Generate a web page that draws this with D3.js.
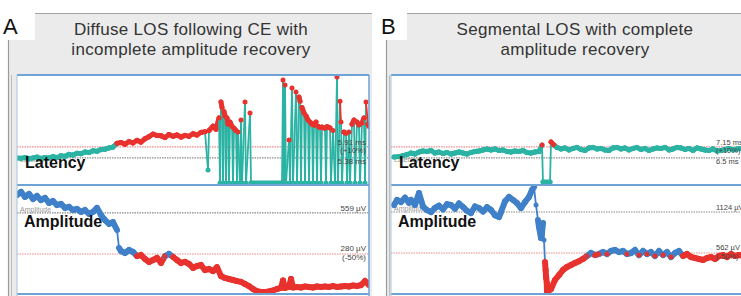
<!DOCTYPE html>
<html>
<head>
<meta charset="utf-8">
<script src="https://cdn.jsdelivr.net/npm/d3@7"></script>
<style>
  body { margin: 0; background: #fff; }
  svg { display: block; font-family: "Liberation Sans", Arial, sans-serif; }
</style>
</head>
<body>
<div id="chart"></div>
<script>
// panel titles
const titlesA = ['Diffuse LOS following CE with', 'incomplete amplitude recovery']
const titlesB = ['Segmental LOS with complete', 'amplitude recovery']

// reference lines: [baseline, alarm threshold]
const latLinesA = [5.38, 5.91]
const ampLinesA = [559, 280]
const latLinesB = [6.5, 7.15]
const ampLinesB = [1124, 562]

const latLabelsA = ['5.91 ms', '(+10%)', '5.38 ms']
const ampLabelsA = ['559 µV', '280 µV', '(-50%)']
const latLabelsB = ['7.15 ms', '(+10%)', '6.5 ms']
const ampLabelsB = ['1124 µV', '562 µV', '(-50%)']

// [minute, ms] ; 4.18 = signal dropout
const latencyA = [
  [0,5.38],[2,5.36],[4,5.40],[6,5.34],[8,5.38],[10,5.42],[12,5.36],[14,5.40],[16,5.38],[18,5.44],
  [20,5.40],[22,5.48],[24,5.46],[26,5.55],[28,5.52],[30,5.60],[32,5.58],[34,5.66],[36,5.64],[38,5.72],
  [40,5.70],[42,5.78],[44,5.80],[46,5.86],[48,5.90],[50,6.08],[52,6.12],[54,6.04],[56,6.16],[58,6.10],
  [60,6.22],[62,6.14],[64,6.30],[66,6.40],[68,6.52],[70,6.46],[72,6.44],[74,6.36],[76,6.50],[78,6.42],
  [80,6.48],[82,6.38],[84,6.46],[86,6.42],[88,6.54],[90,6.48],[92,6.60],[94,6.64],[95.5,4.80],[96,6.70],
  [98,6.90],[99.5,6.76],[101,7.30],[101.5,4.18],[102,8.06],[102.5,7.80],[103,4.18],[103.5,7.60],[104,7.40],
  [104.5,4.18],[105,7.30],[105.5,7.00],[106,4.18],[106.5,7.10],[107.5,6.90],[108,4.18],[108.5,6.80],
  [109.5,6.70],[110,4.18],[110.5,6.62],[111.5,4.18],[112,7.20],[112.5,4.18],[114,8.06],[114.5,4.18],
  [116.5,7.54],[117,4.18],[132.5,4.18],[133,9.12],[133.5,4.18],[134,8.88],[134.5,4.18],[136,6.24],
  [136.5,4.18],[137.5,8.74],[138,4.18],[139.5,8.54],[140,4.18],[141,8.30],[141.5,8.10],[142,4.18],
  [142.5,7.80],[143.5,7.54],[144,4.18],[144.5,7.40],[145.5,7.20],[146,4.18],[146.5,7.10],[147.5,7.00],
  [148,4.18],[148.5,6.96],[149.5,7.10],[150,4.18],[150.5,6.90],[151.5,6.84],[152,4.18],[152.5,6.86],
  [154,6.80],[154.5,4.18],[155,6.88],[156.5,6.82],[157,4.18],[158,6.70],[159,4.18],[160,9.26],
  [160.5,4.18],[161.5,8.10],[162,7.10],[162.5,4.18],[163.5,6.62],[164.5,6.56],[165,4.18],[166,6.62],
  [166.5,4.18],[167.5,7.00],[168.5,7.20],[169,4.18],[170,7.10],[171,6.96],[171.5,4.18],[172.5,7.06],
  [173.5,7.30],[174,4.18],[174.5,8.06],[175.5,7.00],[176,6.90]
]

// [minute, µV]
const amplitudeA = [
  [0,681],[2,702],[4,668],[6,688],[8,654],[10,674],[12,647],[14,661],[16,627],[18,640],
  [20,613],[22,620],[24,593],[26,600],[28,579],[30,586],[32,566],[34,579],[36,552],[38,566],
  [40,593],[42,545],[44,511],[46,484],[48,497],[50,443],[51,321],[52,300],[54,287],[56,307],
  [58,294],[60,266],[62,273],[64,246],[66,226],[68,239],[70,253],[72,219],[74,266],[76,280],
  [78,260],[80,239],[82,219],[84,226],[86,212],[88,185],[90,198],[92,205],[94,171],[96,178],
  [98,164],[100,190],[102,130],[104,117],[106,110],[108,103],[110,96],[112,90],[114,76],[116,62],
  [118,42],[120,28],[122,22],[124,22],[126,25],[128,32],[130,42],[132,49],[133,100],[134,49],
  [136,56],[137,110],[138,52],[140,56],[142,52],[144,59],[146,56],[148,52],[150,59],[152,56],
  [154,59],[156,56],[158,62],[160,56],[162,59],[164,62],[166,59],[168,66],[170,62],[172,69],
  [174,96],[176,69]
]

// [minute, ms] ; 5.08 = signal dropout
const latencyB = [
  [1.5,6.55],[4,6.58],[6,6.64],[8,6.70],[10,6.79],[12,6.73],[14,6.85],[16,6.91],[18,6.88],[20,6.94],
  [22,6.79],[24,6.85],[26,6.76],[28,6.82],[30,6.73],[32,6.79],[34,6.85],[36,6.79],[38,6.73],[40,6.82],
  [42,6.88],[44,6.91],[46,6.97],[48,7.03],[50,6.97],[52,7.03],[54,6.94],[56,6.97],[58,6.88],[60,6.85],
  [62,6.91],[64,6.88],[66,6.94],[68,6.82],[70,6.79],[72,6.85],[74,6.88],[75.5,7.26],[76,5.08],[79.5,5.08],
  [80,7.44],[81.5,7.26],[83,7.12],[85,7.03],[87,7.09],[89,6.97],[91,7.06],[93,7.12],[95,7.00],[97,6.94],
  [99,7.09],[101,7.12],[103,7.03],[105,7.06],[107,6.97],[109,6.94],[111,7.09],[113,7.12],[115,7.03],[117,7.09],
  [119,6.97],[121,7.06],[123,7.12],[125,7.00],[127,7.06],[129,6.94],[131,7.03],[133,7.09],[135,7.06],[137,7.12],
  [139,6.97],[141,7.03],[143,7.12],[145,7.09],[147,7.00],[149,7.06],[151,6.94],[153,7.09],[155,7.03],[157,6.97],
  [159,6.94],[161,7.03],[163,6.91],[165,6.94],[167,7.00],[169,7.06],[171,6.97],[173,7.03],[175,7.06]
]

// [minute, µV]
const amplitudeB = [
  [1.5,1219],[3,1290],[5,1260],[7,1320],[9,1250],[10,1288],[12,1220],[14,1384],[16,1200],[18,1150],
  [20,1123],[22,1180],[24,1210],[26,1160],[28,1230],[30,1219],[32,1170],[34,1240],[36,1192],[38,1140],
  [40,1110],[42,1200],[44,1178],[46,1130],[48,1190],[50,1151],[52,1080],[54,1055],[55,1123],[57,1270],
  [59,1329],[61,1290],[63,1247],[65,1178],[67,1260],[69,1330],[70.5,1425],[71.5,1466],[72.5,1219],[73.5,1014],
  [74,918],[75,767],[75.5,836],[76,973],[76.5,740],[77,438],[77.3,329],[77.6,219],[77.9,151],[78,27],
  [80,68],[82,192],[84,260],[86,329],[88,370],[90,397],[92,425],[94,450],[96,480],[98,521],
  [100,562],[102,534],[104,548],[106,575],[108,548],[110,589],[112,603],[114,575],[116,589],[118,548],
  [120,562],[122,603],[124,534],[126,589],[128,548],[130,575],[132,521],[134,589],[136,534],[138,575],
  [140,507],[142,562],[144,589],[146,521],[148,548],[150,507],[152,493],[154,480],[156,466],[158,493],
  [160,507],[162,480],[164,521],[166,534],[168,507],[170,548],[172,521],[174,534],[176,521]
]

const W = 741, H = 296
const teal = '#2bb3a3', red = '#e8322d', blue = '#3f80c9'
const frameBlue = '#6ea3d6'

const svg = d3.select('#chart').append('svg').attr('width', W).attr('height', H)

const panels = [
  {id: 'a', letter: 'A', titles: titlesA, lat: latencyA, amp: amplitudeA,
   latLines: latLinesA, ampLines: ampLinesA, latLabels: latLabelsA, ampLabels: ampLabelsA,
   latDomain: [4.08, 9.36], ampDomain: [8, 749],
   x0: 8, x1: 372, plotL: 17, plotR: 369, letterW: 36, titleX: 191, labelX: 366, labelAnchor: 'end', labelSize: 8},
  {id: 'b', letter: 'B', titles: titlesB, lat: latencyB, amp: amplitudeB,
   latLines: latLinesB, ampLines: ampLinesB, latLabels: latLabelsB, ampLabels: ampLabelsB,
   latDomain: [4.90, 11.4], ampDomain: [0, 1494],
   x0: 386, x1: 760, plotL: 391, plotR: 743, letterW: 30, titleX: 575, labelX: 716, labelAnchor: 'start', labelSize: 7.5}
]

const frameTop = 13, plotTop = 75, mid = 185, bottom = 294

function drawTrace(g, data, x, y, isAlarm, okColor, width) {
  g.selectAll(null)
    .data(d3.pairs(data))
    .enter().append('line')
    .attr('x1', d => x(d[0][0])).attr('y1', d => y(d[0][1]))
    .attr('x2', d => x(d[1][0])).attr('y2', d => y(d[1][1]))
    .attr('stroke', d => isAlarm(d[0][1]) && isAlarm(d[1][1]) ? red : okColor)
    .attr('stroke-width', d => Math.abs(y(d[0][1]) - y(d[1][1])) > 14 ? 1.8 : width)
    .attr('stroke-linecap', 'round')
  g.selectAll(null)
    .data(data)
    .enter().append('circle')
    .attr('cx', d => x(d[0])).attr('cy', d => y(d[1]))
    .attr('r', 2.5)
    .attr('fill', d => isAlarm(d[1]) ? red : okColor)
}

panels.forEach(p => {
  // grey window frame
  svg.append('rect').attr('x', p.x0).attr('y', frameTop).attr('width', p.x1 - p.x0).attr('height', H - frameTop)
    .attr('fill', '#ebebeb')
  svg.append('line').attr('x1', p.x0).attr('x2', p.x1).attr('y1', frameTop + 0.5).attr('y2', frameTop + 0.5)
    .attr('stroke', '#a3a3a3')
  svg.append('line').attr('x1', p.x0 + 0.5).attr('x2', p.x0 + 0.5).attr('y1', frameTop).attr('y2', H)
    .attr('stroke', '#9a9a9a').attr('stroke-width', 1.2)
  svg.append('line').attr('x1', p.x0 + 3.5).attr('x2', p.x0 + 3.5).attr('y1', plotTop).attr('y2', H)
    .attr('stroke', '#bdbdbd')

  // panel letter on white
  svg.append('rect').attr('x', p.x0 - 9).attr('y', 0).attr('width', p.letterW).attr('height', 40).attr('fill', '#fff')
  svg.append('text').attr('x', p.x0 - 5).attr('y', 34).attr('font-size', 22).attr('fill', '#111').text(p.letter)

  svg.append('g').selectAll('text').data(p.titles).enter().append('text')
    .attr('x', p.titleX).attr('y', (d, i) => 35 + i * 20)
    .attr('text-anchor', 'middle').attr('font-size', 17).attr('letter-spacing', 0.3).attr('fill', '#333')
    .text(d => d)

  // plot area
  svg.append('rect').attr('x', p.plotL).attr('y', plotTop).attr('width', p.plotR - p.plotL).attr('height', H - plotTop)
    .attr('fill', '#fff')

  const clip = svg.append('clipPath').attr('id', 'clip-' + p.id)
  clip.append('rect').attr('x', p.plotL).attr('y', plotTop).attr('width', p.plotR - p.plotL).attr('height', bottom - plotTop)

  const x = d3.scaleLinear().domain([0, 176]).range([p.plotL, p.plotR])
  const yLat = d3.scaleLinear().domain(p.latDomain).range([mid, plotTop])
  const yAmp = d3.scaleLinear().domain(p.ampDomain).range([bottom, mid])

  const g = svg.append('g').attr('clip-path', 'url(#clip-' + p.id + ')')

  // baseline (grey) and alarm (red) lines
  const refs = [
    {v: yLat(p.latLines[0]), c: '#8a8a8a'}, {v: yLat(p.latLines[1]), c: '#f08a8a'},
    {v: yAmp(p.ampLines[0]), c: '#8a8a8a'}, {v: yAmp(p.ampLines[1]), c: '#f08a8a'}
  ]
  g.selectAll('.ref').data(refs).enter().append('line')
    .attr('x1', p.plotL).attr('x2', p.plotR).attr('y1', d => d.v).attr('y2', d => d.v)
    .attr('stroke', d => d.c).attr('stroke-width', 1.2).attr('stroke-dasharray', '1.5,1')

  // faint channel names
  g.append('text').attr('x', p.plotL + 3).attr('y', yLat(p.latLines[0]) + 4).attr('font-size', 7).attr('fill', '#9a9a9a').text('Latency')
  g.append('text').attr('x', p.plotL + 3).attr('y', yAmp(p.ampLines[0]) - 1).attr('font-size', 7).attr('fill', '#9a9a9a').text('Amplitude')

  drawTrace(g, p.lat, x, yLat, v => v > p.latLines[1], teal, 5)
  drawTrace(g, p.amp, x, yAmp, v => v < p.ampLines[1], blue, 6)

  // value labels
  const latPos = [yLat(p.latLines[1]) - 2, yLat(p.latLines[1]) + 6, yLat(p.latLines[0]) + 6]
  const ampPos = [yAmp(p.ampLines[0]) - 2, yAmp(p.ampLines[1]) - 3, yAmp(p.ampLines[1]) + 6]
  g.selectAll('.latlab').data(p.latLabels).enter().append('text')
    .attr('x', p.labelX).attr('y', (d, i) => latPos[i]).attr('text-anchor', p.labelAnchor)
    .attr('font-size', p.labelSize).attr('fill', '#444').text(d => d)
  g.selectAll('.amplab').data(p.ampLabels).enter().append('text')
    .attr('x', p.labelX).attr('y', (d, i) => ampPos[i]).attr('text-anchor', p.labelAnchor)
    .attr('font-size', p.labelSize).attr('fill', '#444').text(d => d)

  // channel names
  svg.append('text').attr('x', p.plotL + 8).attr('y', 168).attr('font-size', 16).attr('font-weight', 'bold')
    .attr('fill', '#111').text('Latency')
  svg.append('text').attr('x', p.plotL + 7).attr('y', 227).attr('font-size', 16).attr('font-weight', 'bold')
    .attr('fill', '#111').text('Amplitude')

  // blue trace frame
  ;[plotTop, mid, bottom].forEach(yy => {
    svg.append('line').attr('x1', p.plotL).attr('x2', p.plotR).attr('y1', yy).attr('y2', yy)
      .attr('stroke', frameBlue).attr('stroke-width', 2)
  })
  svg.append('line').attr('x1', p.plotR).attr('x2', p.plotR).attr('y1', plotTop).attr('y2', H)
    .attr('stroke', frameBlue).attr('stroke-width', 1.5)
  svg.append('line').attr('x1', p.plotL).attr('x2', p.plotL).attr('y1', plotTop).attr('y2', H)
    .attr('stroke', '#a9c3de').attr('stroke-width', 1)
})
</script>
</body>
</html>
